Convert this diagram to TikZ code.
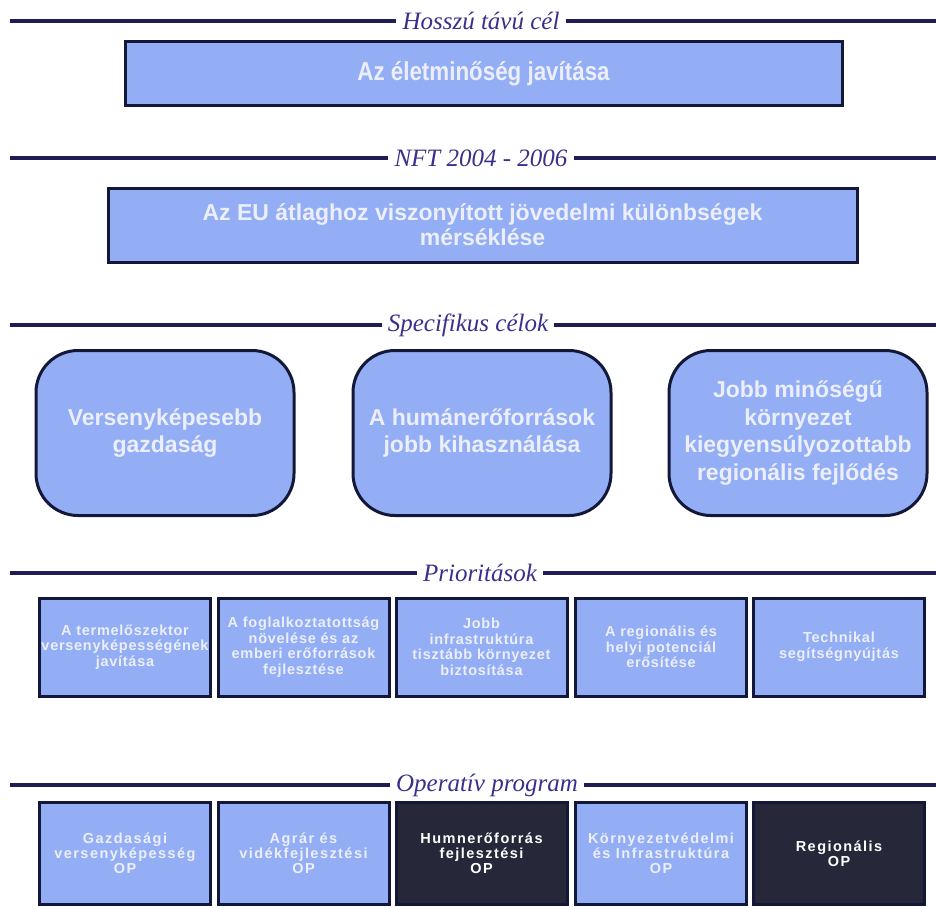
\documentclass[tikz,border=0pt]{standalone}
\usepackage{fontspec}
\setmainfont{Liberation Serif}
\setsansfont{Liberation Sans}
\newfontfamily\narrowsans[FakeStretch=0.86]{Liberation Sans}
\newfontfamily\priosans[LetterSpace=5]{Liberation Sans}
\newfontfamily\progsans[LetterSpace=10]{Liberation Sans}

\definecolor{linenavy}{HTML}{1E1E55}
\definecolor{headblue}{HTML}{38308A}
\definecolor{boxnavy}{HTML}{141838}
\definecolor{boxblue}{HTML}{93AEF4}
\definecolor{boxtext}{HTML}{ECEFFB}
\definecolor{darkfill}{HTML}{27273A}

\tikzset{
  hline/.style={draw=linenavy, line width=3.2pt},
  heading/.style={font=\itshape\fontsize{25}{27}\selectfont, text=headblue, inner sep=6pt},
  goal/.style={draw=boxnavy, line width=3pt, fill=boxblue, text=boxtext, align=center,
    inner sep=0pt, font=\sffamily\bfseries\fontsize{23}{25}\selectfont},
  aim/.style={goal, rounded corners=42pt, minimum width=258pt, minimum height=165pt,
    font=\sffamily\bfseries\fontsize{23}{27.5}\selectfont},
  prio/.style={goal, minimum width=171pt, minimum height=98pt,
    font=\priosans\bfseries\fontsize{14.5}{15.5}\selectfont},
  prog/.style={prio, minimum height=102pt, font=\progsans\bfseries\fontsize{14.5}{15}\selectfont},
  progdark/.style={prog, fill=darkfill, text=white}
}

\begin{document}
\begin{tikzpicture}[x=1pt, y=-1pt]
  \useasboundingbox (0,0) rectangle (936,907);
  \clip (0,0) rectangle (936,907);

  % headings
  \node[heading] (hosszu) at (481,21) {Hosszú távú cél};
  \node[heading] (nft) at (481,158) {NFT 2004 - 2006};
  \node[heading] (spec) at (468,325) {Specifikus célok};
  \node[heading] (prior) at (480,573) {Prioritások};
  \node[heading] (oper) at (487,785) {Operatív program};
  \coordinate (l1) at (10,21);   \coordinate (r1) at (936,21);
  \coordinate (l2) at (10,158);  \coordinate (r2) at (936,158);
  \coordinate (l3) at (10,325);  \coordinate (r3) at (936,325);
  \coordinate (l4) at (10,573);  \coordinate (r4) at (936,573);
  \coordinate (l5) at (10,785);  \coordinate (r5) at (936,785);
  \begin{scope}[hline]
    \draw (l1) -- (hosszu.west);  \draw (hosszu.east) -- (r1);
    \draw (l2) -- (nft.west);     \draw (nft.east) -- (r2);
    \draw (l3) -- (spec.west);    \draw (spec.east) -- (r3);
    \draw (l4) -- (prior.west);   \draw (prior.east) -- (r4);
    \draw (l5) -- (oper.west);    \draw (oper.east) -- (r5);
  \end{scope}

  % goals
  \node[goal, minimum width=717pt, minimum height=63pt,
    font=\narrowsans\bfseries\fontsize{26}{28}\selectfont] (elet) at (483.5,73.5)
    {Az életminőség javítása};
  \node[goal, minimum width=749pt, minimum height=74pt] (eu) at (482.5,225)
    {Az EU átlaghoz viszonyított jövedelmi különbségek\\mérséklése};

  % specific aims
  \node[aim] (verseny) at (165,433) {Versenyképesebb\\gazdaság};
  \node[aim] (human) at (482,433) {A humánerőforrások\\jobb kihasználása};
  \node[aim] (kornyezet) at (798,433)
    {Jobb minőségű\\környezet\\kiegyensúlyozottabb\\regionális fejlődés};

  % priorities
  \node[prio] (p1) at (125,647) {A termelőszektor\\versenyképességének\\javítása};
  \node[prio] (p2) at (303.5,647) {A foglalkoztatottság\\növelése és az\\emberi erőforrások\\fejlesztése};
  \node[prio] (p3) at (481.5,647) {Jobb\\infrastruktúra\\tisztább környezet\\biztosítása};
  \node[prio] (p4) at (661,647) {A regionális és\\helyi potenciál\\erősítése};
  \node[prio] (p5) at (839,647) {Technikal\\segítségnyújtás};

  % operative programmes
  \node[prog] (op1) at (125,853.5) {Gazdasági\\versenyképesség\\OP};
  \node[prog] (op2) at (303.5,853.5) {Agrár és\\vidékfejlesztési\\OP};
  \node[progdark] (op3) at (481.5,853.5) {Humnerőforrás\\fejlesztési\\OP};
  \node[prog] (op4) at (661,853.5) {Környezetvédelmi\\és Infrastruktúra\\OP};
  \node[progdark] (op5) at (839,853.5) {Regionális\\OP};
\end{tikzpicture}
\end{document}
